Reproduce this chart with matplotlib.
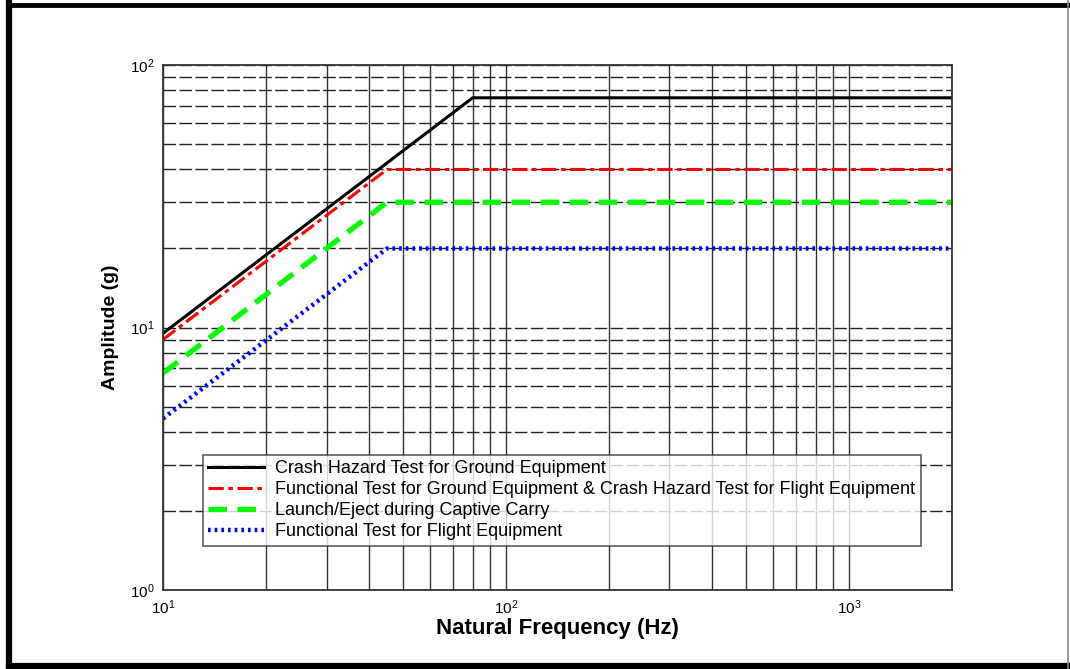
import matplotlib
matplotlib.use("Agg")
import matplotlib.pyplot as plt
from matplotlib.lines import Line2D
from matplotlib.ticker import LogLocator

plt.rcParams['font.family'] = ['Liberation Sans', 'DejaVu Sans']

# breakpoints
freq_crash_ground = [10, 80, 2000]
amp_crash_ground = [9.5, 75, 75]
freq_knee45 = [10, 45, 2000]
amp_func_ground = [9.0, 40, 40]
amp_launch = [6.7, 30, 30]
amp_func_flight = [4.5, 20, 20]

labels = [
    "Crash Hazard Test for Ground Equipment",
    "Functional Test for Ground Equipment & Crash Hazard Test for Flight Equipment",
    "Launch/Eject during Captive Carry",
    "Functional Test for Flight Equipment",
]

fig = plt.figure(figsize=(10.7, 6.69), dpi=100)
ax = fig.add_axes([163/1070, 1-590/669, (952-163)/1070, (590-65)/669])

ax.set_xscale("log")
ax.set_yscale("log")
ax.set_xlim(10, 2000)
ax.set_ylim(1, 100)

# grid: solid verticals, dashed horizontals (matlab style)
ax.xaxis.set_minor_locator(LogLocator(base=10, subs=range(2, 10)))
ax.yaxis.set_minor_locator(LogLocator(base=10, subs=range(2, 10)))
ax.grid(True, which="both", axis="x", color="#333333", linestyle="-", linewidth=1.0)
ax.grid(True, which="both", axis="y", color="#222222", linestyle=(0, (9, 2.5)), linewidth=1.0)
ax.set_axisbelow(True)

ax.plot(freq_crash_ground, amp_crash_ground, color="black", lw=2.2, label=labels[0])
ax.plot(freq_knee45, amp_func_ground, color="red", lw=2.2, linestyle=(0, (5, 1.5, 1.5, 1.5)), label=labels[1])
ax.plot(freq_knee45, amp_launch, color="#00ff00", lw=3.8, linestyle=(0, (3.5, 2)), label=labels[2])
ax.plot(freq_knee45, amp_func_flight, color="blue", lw=3.2, linestyle=(0, (0.6, 0.9)), label=labels[3])

for sp in ax.spines.values():
    sp.set_color("#333333")
    sp.set_linewidth(1.3)
ax.tick_params(which="both", direction="in", length=0, labelsize=11, pad=6)

ax.set_xlabel("Natural Frequency (Hz)", fontsize=16, fontweight="bold", labelpad=1)
ax.set_ylabel("Amplitude (g)", fontsize=14, fontweight="bold", labelpad=8)

leg = ax.legend(loc="upper left", bbox_to_anchor=((203-163)/789, (590-455)/525),
                fontsize=13, frameon=True, fancybox=False, handlelength=3.1,
                borderpad=0.3, labelspacing=0.22, handletextpad=0.6, borderaxespad=0)
leg.get_frame().set_edgecolor("#333333")
leg.get_frame().set_linewidth(1.2)

# outer frame around the picture
fig.add_artist(Line2D([9/1070, 9/1070], [0, 1-3/669], color="black", lw=4.5))
fig.add_artist(Line2D([0.008, 1], [1-5/669, 1-5/669], color="black", lw=3.5))
fig.add_artist(Line2D([0.008, 1], [3/669, 3/669], color="black", lw=4.5))
fig.add_artist(Line2D([1068/1070, 1068/1070], [0, 1], color="#888888", lw=1.2))

fig.savefig("out.png", dpi=100)
